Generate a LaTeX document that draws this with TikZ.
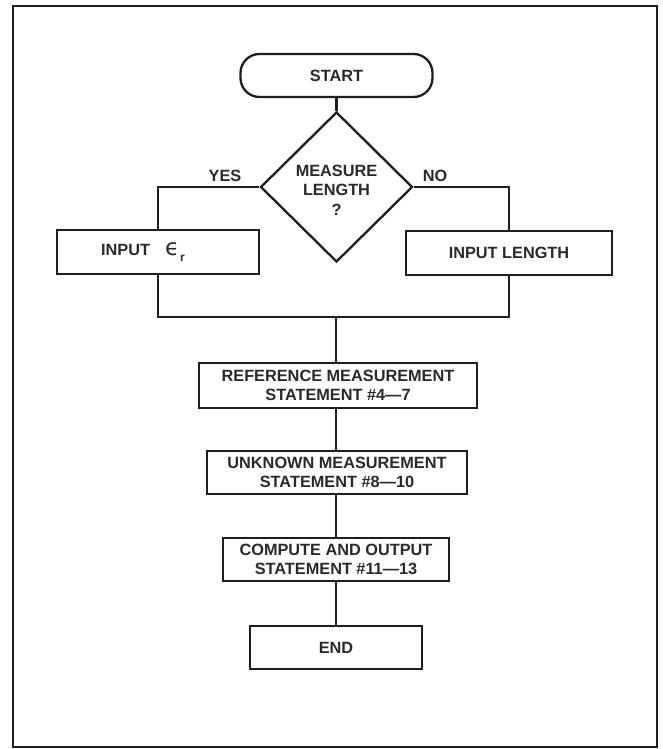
\documentclass[tikz,border=0pt]{standalone}
\usepackage{fontspec}
\setmainfont{Liberation Sans}
\newfontfamily\dejavu{DejaVu Sans}
\usetikzlibrary{shapes.geometric}
\definecolor{ink}{HTML}{1E1E1E}
\definecolor{txt}{HTML}{2A2A2A}
\tikzset{
  every node/.style={font=\bfseries\fontsize{16.3}{19.5}\selectfont, text=txt},
  stepbox/.style={draw=ink, line width=2.3pt, rectangle, inner sep=0pt, align=center},
  startbox/.style={stepbox, rounded corners=19pt},
  decide/.style={draw=ink, line width=2.3pt, diamond, shape aspect=1.0133, inner sep=0pt, align=center, minimum width=152pt, minimum height=150pt},
  conn/.style={draw=ink, line width=2.3pt},
  lbl/.style={inner sep=0pt}
}
\begin{document}
\begin{tikzpicture}[x=1pt,y=-1pt]
\useasboundingbox (0,0) rectangle (662,749);
\fill[white] (0,0) rectangle (662,749);
\draw[ink, line width=2pt] (13,6) rectangle (657,747);

\node[startbox, minimum width=192pt, minimum height=43pt] (start) at (336.5,75.5) {START};
\node[decide] (dia) at (336.5,187) {\\[-2pt]MEASURE\\LENGTH\\?};
\node[stepbox, minimum width=202pt, minimum height=44pt] (in1) at (158,252)
  {INPUT\hspace{15pt}{\dejavu\mdseries\fontsize{23}{23}\selectfont ϵ}\hspace{1pt}\raisebox{-6pt}{\fontsize{12}{12}\selectfont r}\hspace*{30pt}};
\node[stepbox, minimum width=206pt, minimum height=44pt] (in2) at (509,253) {INPUT LENGTH};
\coordinate (m) at (336,317);
\node[stepbox, minimum width=278pt, minimum height=45pt] (ref) at (338,385.5) {REFERENCE MEASUREMENT\\STATEMENT \#4—7};
\node[stepbox, minimum width=260pt, minimum height=43pt] (unk) at (337,472.5) {UNKNOWN MEASUREMENT\\STATEMENT \#8—10};
\node[stepbox, minimum width=226pt, minimum height=43pt] (comp) at (336,559.5) {COMPUTE AND OUTPUT\\STATEMENT \#11—13};
\node[stepbox, minimum width=172pt, minimum height=43pt] (end) at (336,647.5) {END};

\node[lbl] (yes) at (225,176) {YES};
\node[lbl] (no) at (435,176) {NO};

\draw[conn] (start.south) -- (dia.north);
\draw[conn] (dia.west) -| (in1.north);
\draw[conn] (dia.east) -| (in2.north);
\draw[conn] (in1.south) |- (m) -| (in2.south);
\draw[conn] (m) -- (m |- ref.north);
\draw[conn] (ref.south -| m) -- (m |- unk.north);
\draw[conn] (unk.south -| m) -- (m |- comp.north);
\draw[conn] (comp.south) -- (end.north);
\end{tikzpicture}
\end{document}
